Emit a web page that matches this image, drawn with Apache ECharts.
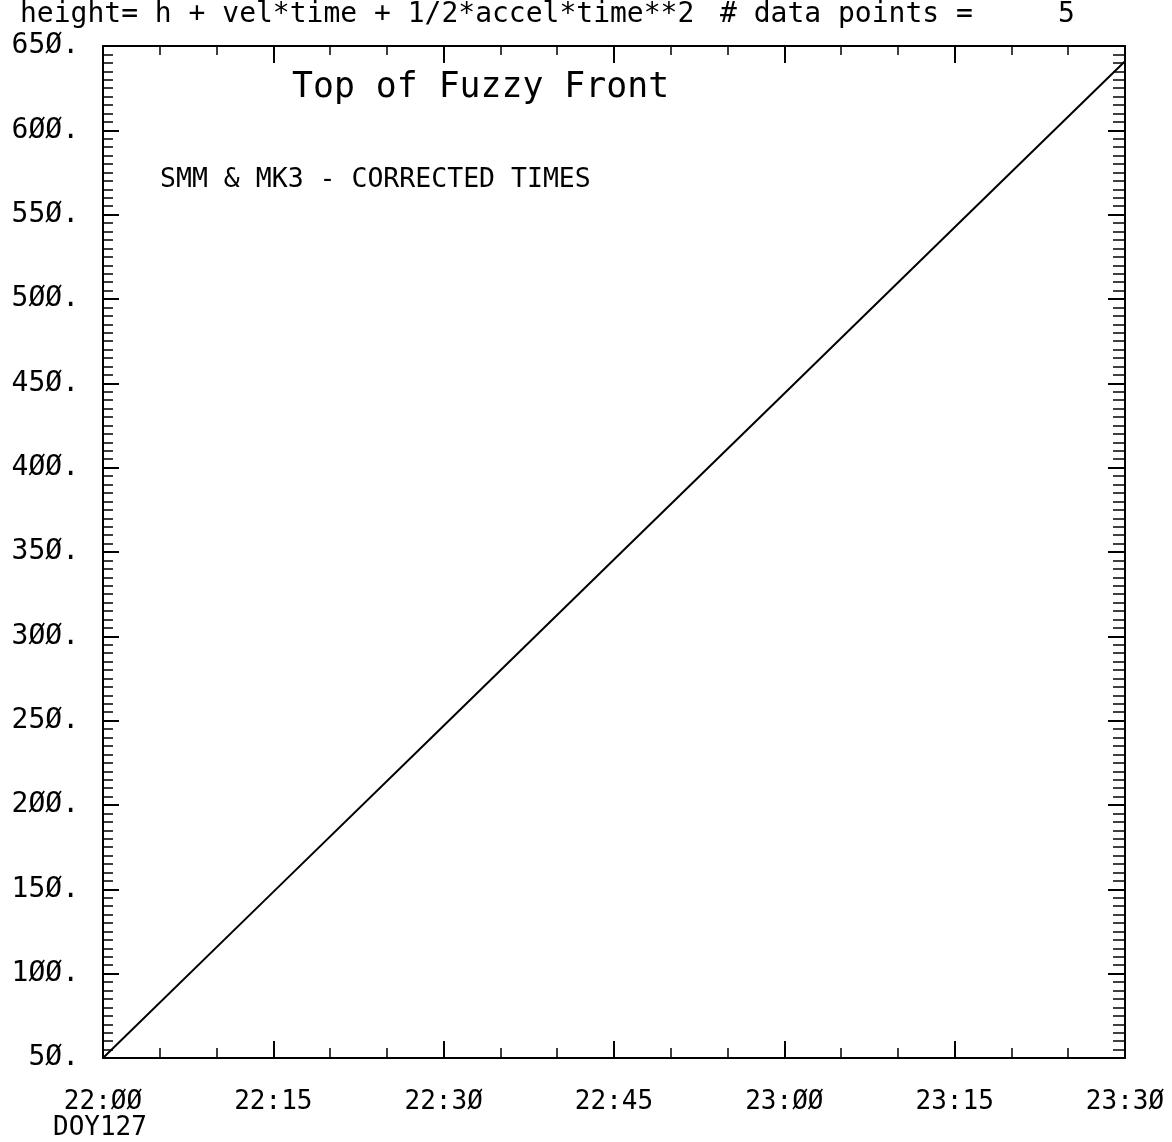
<!DOCTYPE html>
<html>
<head>
<meta charset="utf-8">
<script src="https://cdn.jsdelivr.net/npm/echarts@6/dist/echarts.min.js"></script>
<style>
html,body{margin:0;padding:0;background:#fff;}
#chart{width:1172px;height:1142px;}
</style>
</head>
<body>
<div id="chart"></div>
<script>
// ---- data ----
var fitMinutes = [0, 15, 30, 45, 60, 75, 90];          // minutes after 22:00
var fitHeights = [50, 148.5, 247, 345.5, 444, 542.5, 641];
var timeTickLabels = ['22:ØØ', '22:15', '22:3Ø', '22:45', '23:ØØ', '23:15', '23:3Ø'];
var headerText = 'height= h + vel*time + 1/2*accel*time**2';
var pointsText = '# data points =';
var pointsCount = '5';
var plotTitle = 'Top of Fuzzy Front';
var plotSubtitle = 'SMM & MK3 - CORRECTED TIMES';
var dayLabel = 'DOY127';

var FONT = 'DejaVu Sans Mono';
var chart = echarts.init(document.getElementById('chart'), null, {renderer: 'canvas'});

function yLabel(v) { return String(v).replace(/0/g, 'Ø') + '.'; }
function xLabel(v) { var i = fitMinutes.indexOf(v); return i >= 0 ? timeTickLabels[i] : ''; }

var axisLine = {show: true, onZero: false, lineStyle: {color: '#000', width: 2}};

var option = {
  backgroundColor: '#fff',
  animation: false,
  grid: {left: 103, right: 47, top: 46, bottom: 84, containLabel: false},
  xAxis: [
    {
      type: 'value', min: 0, max: 90, interval: 15, position: 'bottom',
      axisLine: axisLine,
      axisTick: {show: true, inside: true, length: 17, lineStyle: {color: '#000', width: 2}},
      minorTick: {show: true, splitNumber: 3, length: 10, lineStyle: {color: '#000', width: 1.5}},
      splitLine: {show: false},
      axisLabel: {show: true, margin: 31, formatter: xLabel, color: '#000', fontFamily: FONT, fontSize: 26}
    },
    {
      type: 'value', min: 0, max: 90, interval: 15, position: 'top',
      axisLine: axisLine,
      axisTick: {show: true, inside: true, length: 17, lineStyle: {color: '#000', width: 2}},
      minorTick: {show: true, splitNumber: 3, length: 9, lineStyle: {color: '#000', width: 1.5}},
      splitLine: {show: false},
      axisLabel: {show: false}
    }
  ],
  yAxis: [
    {
      type: 'value', min: 50, max: 650, interval: 50, position: 'left',
      axisLine: axisLine,
      axisTick: {show: true, inside: true, length: 16, lineStyle: {color: '#000', width: 2}},
      minorTick: {show: true, splitNumber: 10, length: 10, lineStyle: {color: '#000', width: 1.5}},
      splitLine: {show: false},
      axisLabel: {show: true, margin: 24, formatter: yLabel, color: '#000', fontFamily: FONT, fontSize: 28}
    },
    {
      type: 'value', min: 50, max: 650, interval: 50, position: 'right',
      axisLine: axisLine,
      axisTick: {show: true, inside: true, length: 17, lineStyle: {color: '#000', width: 2}},
      minorTick: {show: true, splitNumber: 10, length: 12, lineStyle: {color: '#000', width: 1.5}},
      splitLine: {show: false},
      axisLabel: {show: false}
    }
  ],
  series: [
    {
      type: 'line',
      xAxisIndex: 0, yAxisIndex: 0,
      data: fitMinutes.map(function (m, i) { return [m, fitHeights[i]]; }),
      showSymbol: false, symbol: 'none',
      lineStyle: {color: '#000', width: 2},
      clip: true
    }
  ],
  graphic: [
    {type: 'text', left: 20, top: 1, style: {text: headerText, fontFamily: FONT, fontSize: 28, fill: '#000'}},
    {type: 'text', left: 720, top: 1, style: {text: pointsText, fontFamily: FONT, fontSize: 28, fill: '#000'}},
    {type: 'text', left: 1058, top: 1, style: {text: pointsCount, fontFamily: FONT, fontSize: 28, fill: '#000'}},
    {type: 'text', left: 292, top: 70, style: {text: plotTitle, fontFamily: FONT, fontSize: 34.8, fill: '#000'}},
    {type: 'text', left: 160, top: 167, style: {text: plotSubtitle, fontFamily: FONT, fontSize: 26.5, fill: '#000'}},
    {type: 'text', left: 53, top: 1115, style: {text: dayLabel, fontFamily: FONT, fontSize: 26, fill: '#000'}}
  ]
};
chart.setOption(option);
</script>
</body>
</html>
